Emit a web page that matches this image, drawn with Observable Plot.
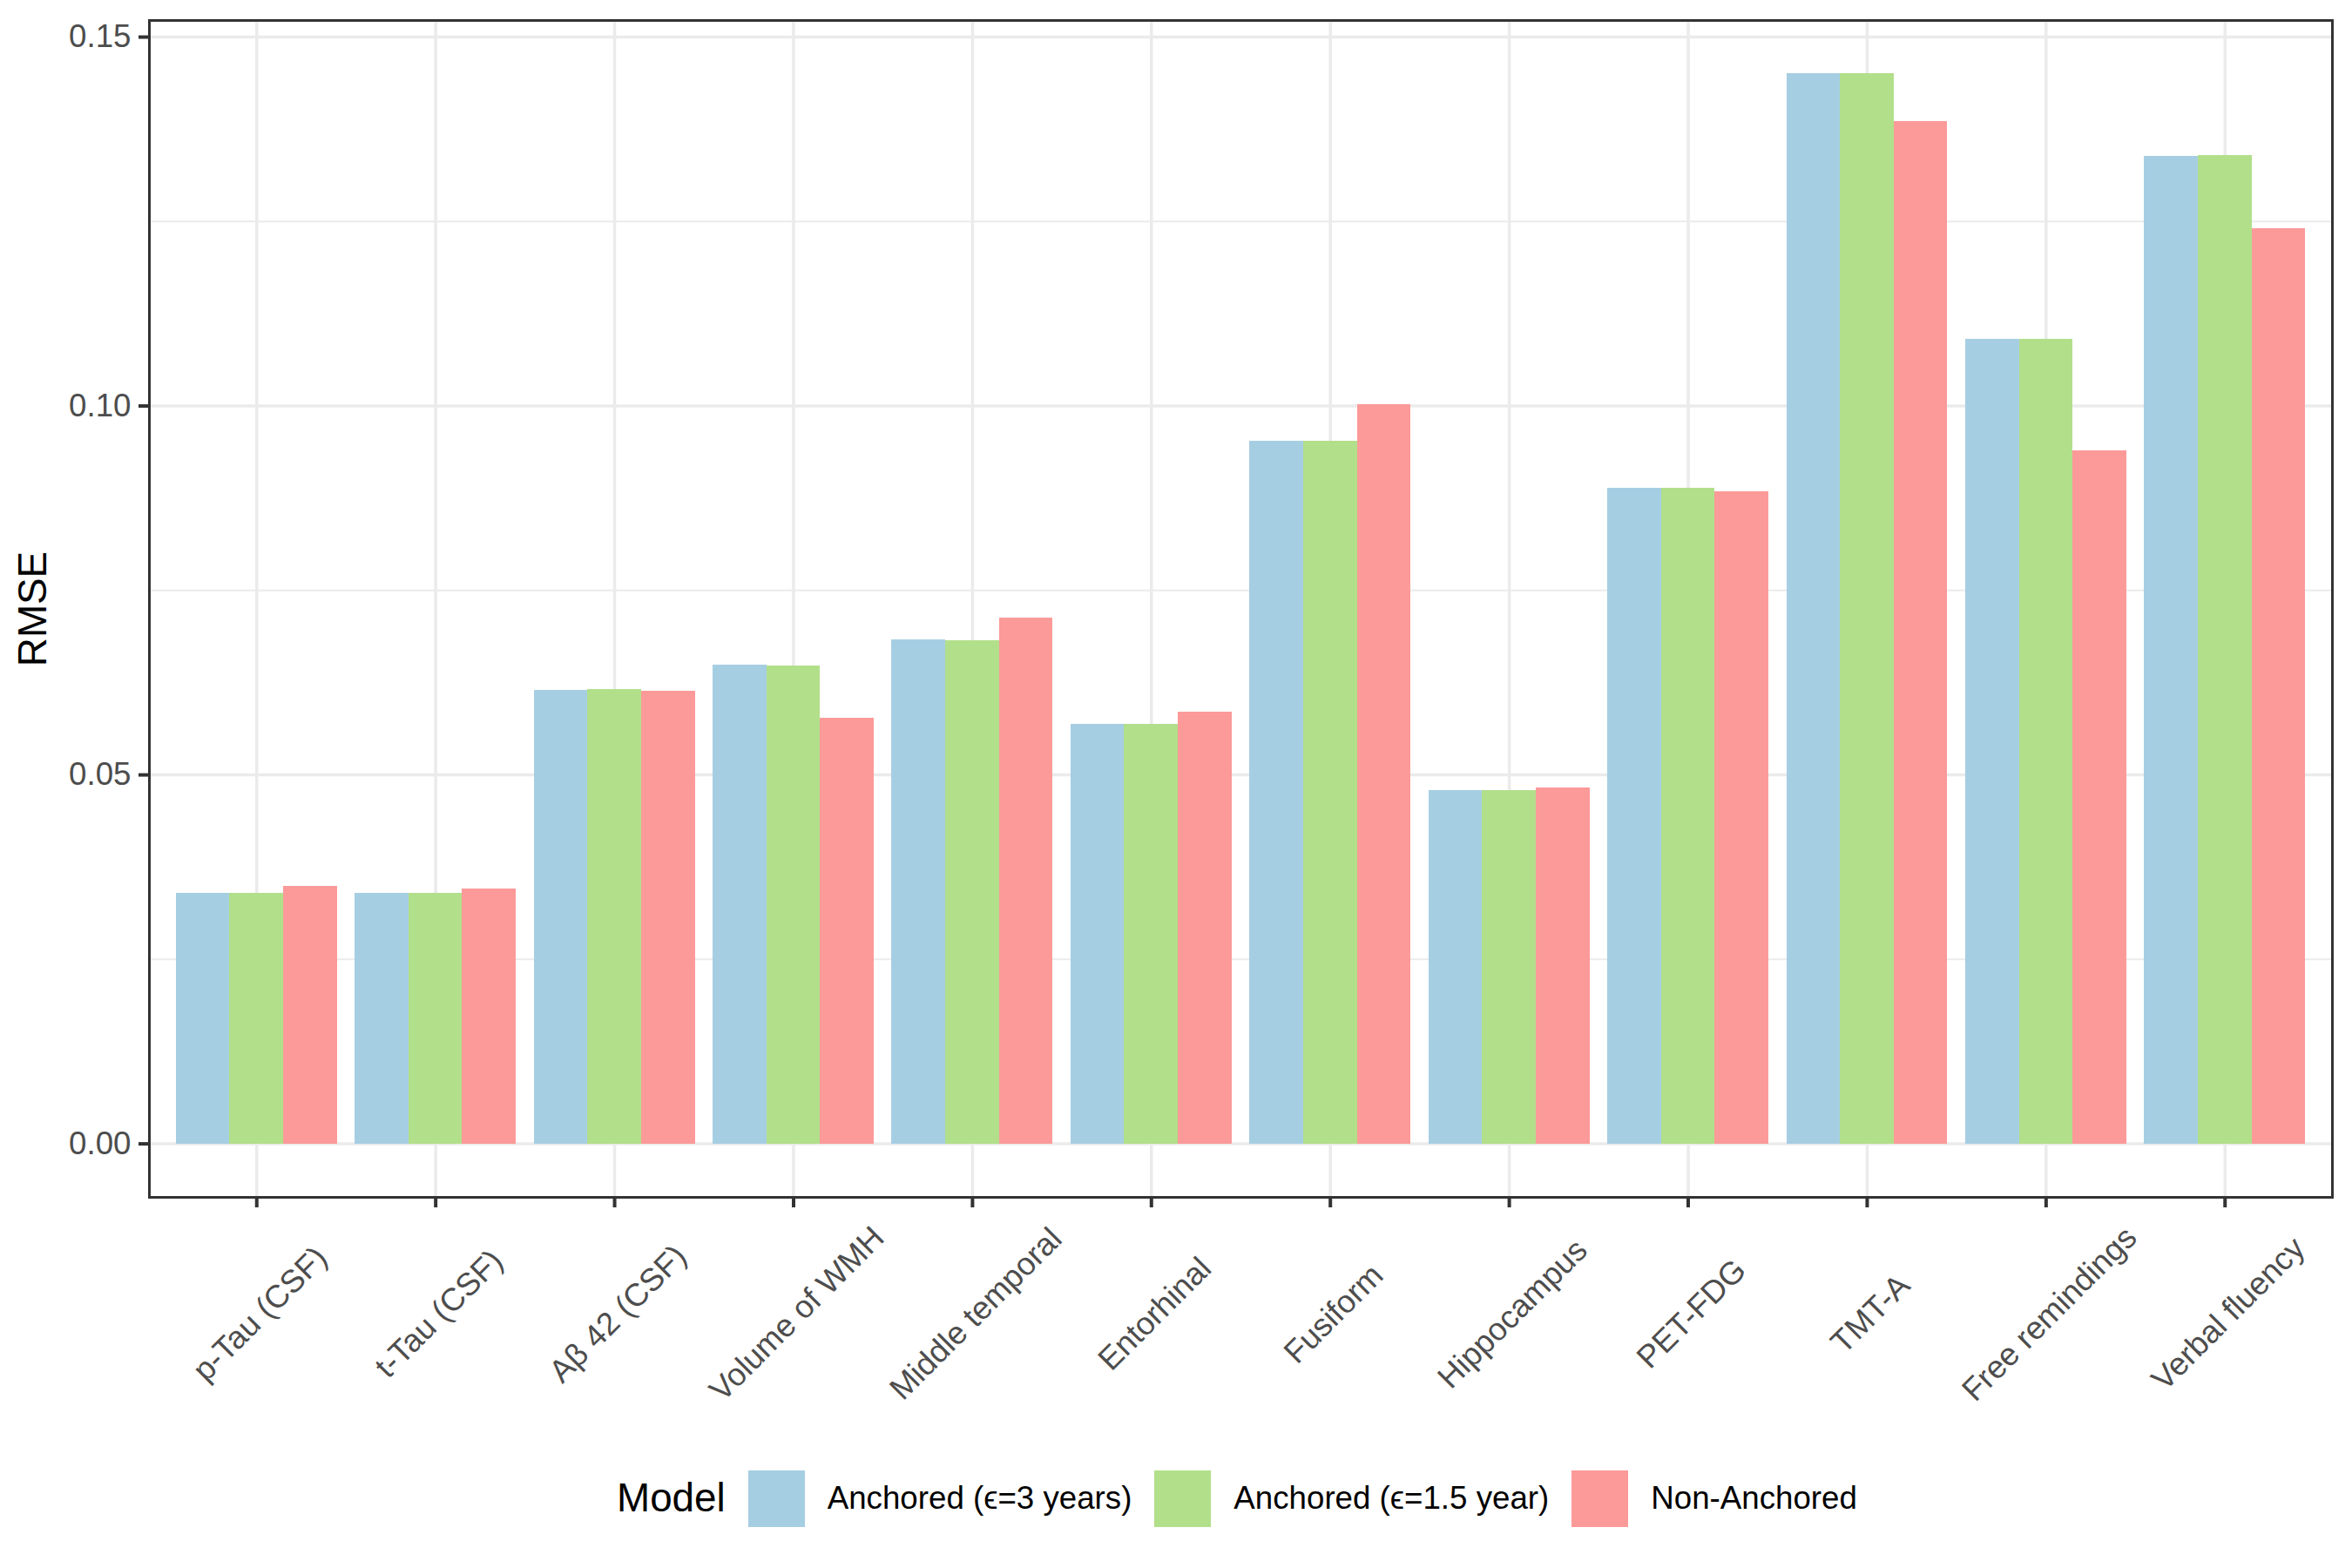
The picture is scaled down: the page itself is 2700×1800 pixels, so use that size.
<!DOCTYPE html>
<html>
<head>
<meta charset="utf-8">
<script src="https://cdn.jsdelivr.net/npm/d3@7"></script>
<script src="https://cdn.jsdelivr.net/npm/@observablehq/plot@0.6"></script>
<style>
  html, body { margin: 0; padding: 0; background: #fff; }
  body { width: 2700px; height: 1800px; font-family: "Liberation Sans", Arial, sans-serif; }
  #legend { height: 160px; display: flex; align-items: center; padding-left: 708px; box-sizing: border-box; }
  #legend .title { font-size: 45.8px; color: #000; margin-right: 26px; }
  #legend .key { width: 65px; height: 65px; margin-right: 26px; }
  #legend .lab { font-size: 36.7px; color: #000; margin-right: 26px; white-space: nowrap; }
</style>
</head>
<body>
<div id="chart"></div>
<div id="legend"></div>
<script>
const categories = ["p-Tau (CSF)", "t-Tau (CSF)", "Aβ 42 (CSF)", "Volume of WMH", "Middle temporal", "Entorhinal", "Fusiform", "Hippocampus", "PET-FDG", "TMT-A", "Free remindings", "Verbal fluency"];
const models = ["Anchored (ϵ=3 years)", "Anchored (ϵ=1.5 year)", "Non-Anchored"];
const anchored3  = [0.0339, 0.0340, 0.0615, 0.0649, 0.0683, 0.0568, 0.0952, 0.0479, 0.0888, 0.1450, 0.1090, 0.1338];
const anchored15 = [0.0339, 0.0340, 0.0616, 0.0648, 0.0682, 0.0568, 0.0952, 0.0479, 0.0888, 0.1450, 0.1090, 0.1339];
const nonAnchored = [0.0349, 0.0346, 0.0614, 0.0577, 0.0713, 0.0585, 0.1002, 0.0482, 0.0884, 0.1386, 0.0939, 0.1240];
const colors = ["#A6CEE3", "#B2DF8A", "#FB9A99"];
const yMajor = [0, 0.05, 0.10, 0.15];
const yMinor = [0.025, 0.075, 0.125];

const series = [anchored3, anchored15, nonAnchored];
const dodge = 0.9;
const rows = [];
series.forEach((vals, m) => {
  vals.forEach((v, i) => {
    const x1 = (i + 1) - dodge / 2 + m * dodge / models.length;
    rows.push({category: categories[i], model: models[m], value: v, x1, x2: x1 + dodge / models.length});
  });
});
const idx = categories.map((d, i) => i + 1);
const maxV = d3.max(rows, d => d.value);
const pad = 0.05 * maxV;

const grid = "#EBEBEB";
const plot = Plot.plot({
  width: 2700,
  height: 1640,
  marginLeft: 171,
  marginRight: 23,
  marginTop: 23,
  marginBottom: 266,
  style: {fontFamily: "'Liberation Sans', Arial, sans-serif", background: "#fff"},
  x: {domain: [1 - 0.6, categories.length + 0.6], axis: null},
  y: {domain: [-pad, maxV + pad], axis: null},
  color: {domain: models, range: colors},
  marks: [
    Plot.gridY(yMinor, {stroke: grid, strokeOpacity: 1, strokeWidth: 2}),
    Plot.gridY(yMajor, {stroke: grid, strokeOpacity: 1, strokeWidth: 3.5}),
    Plot.gridX(idx, {stroke: grid, strokeOpacity: 1, strokeWidth: 3.5}),
    Plot.rectY(rows, {x1: "x1", x2: "x2", y: "value", fill: "model", inset: 0, shapeRendering: "crispEdges"}),
    Plot.frame({stroke: "#333333", strokeWidth: 3}),
    Plot.axisY(yMajor, {tickSize: 12, tickPadding: 9, tickFormat: d3.format(".2f"), fontSize: 36.7, fill: "#4d4d4d", stroke: "#333333", strokeWidth: 4, label: null}),
    Plot.axisX(idx, {tickSize: 12, tickFormat: () => "", stroke: "#333333", strokeWidth: 4, label: null}),
    Plot.text(categories, {x: (d, i) => i + 1, text: d => d, frameAnchor: "bottom", rotate: -45, textAnchor: "middle", lineAnchor: "middle", dx: 4, dy: 134, fontSize: 36.7, fill: "#4d4d4d"}),
    Plot.text(["RMSE"], {frameAnchor: "left", text: d => d, rotate: -90, textAnchor: "middle", lineAnchor: "middle", dx: -133, fontSize: 45.8, fill: "#000"})
  ]
});
document.getElementById("chart").appendChild(plot);

const legend = document.getElementById("legend");
const t = document.createElement("span");
t.className = "title"; t.textContent = "Model";
legend.appendChild(t);
models.forEach((m, i) => {
  const k = document.createElement("span");
  k.className = "key"; k.style.background = colors[i];
  legend.appendChild(k);
  const l = document.createElement("span");
  l.className = "lab"; l.textContent = m;
  legend.appendChild(l);
});
</script>
</body>
</html>
